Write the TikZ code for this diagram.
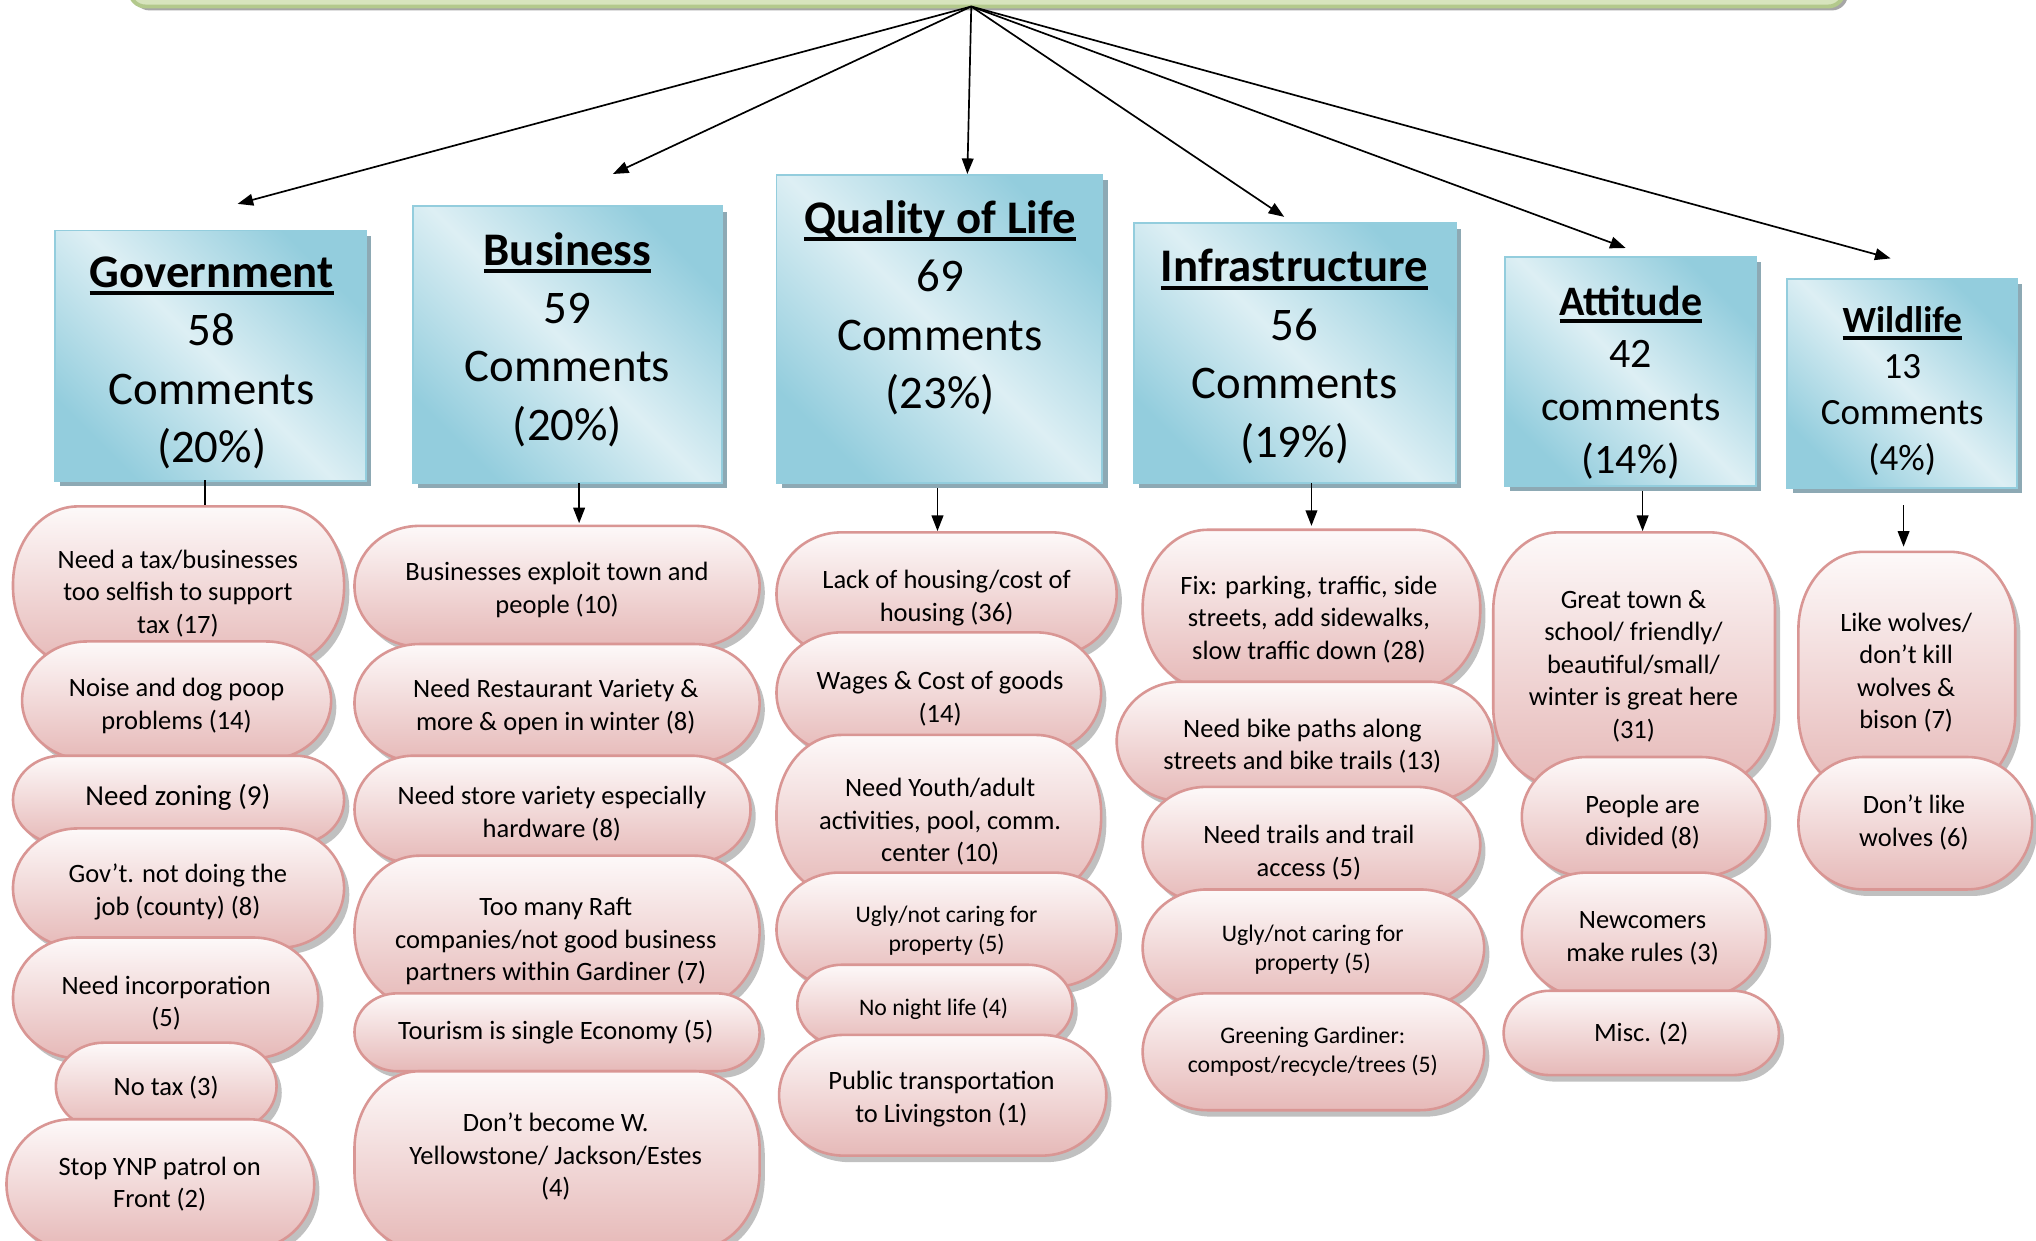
\documentclass[tikz,border=0pt]{standalone}
\usepackage{fontspec}
\setmainfont{Carlito}
\usetikzlibrary{arrows.meta,shadows}
\definecolor{pinkedge}{HTML}{D99694}
\definecolor{pinktop}{HTML}{FDF9F9}
\definecolor{pinkbot}{HTML}{E6B9B8}
\definecolor{pillshadow}{HTML}{A6A6A6}
\definecolor{bluedark}{HTML}{93CDDD}
\definecolor{bluelight}{HTML}{DDEFF4}
\definecolor{blueedge}{HTML}{93CDDD}
\definecolor{blueshadow}{HTML}{8DA9B4}
\definecolor{greenfill}{HTML}{D7E4BD}
\definecolor{greenedge}{HTML}{B3C98C}
\newcommand\fs[2]{\fontsize{#1}{#2}\selectfont}
\newcommand\pf{\fs{20.4}{25}}
\newcommand\pfs{\fs{18.3}{22.5}}
\newcommand\pfz{\fs{22.3}{27}}
\newcommand\cathead[1]{\setbox0\hbox{#1}\rlap{\rule[-6pt]{\wd0}{3pt}}\box0}
\newcommand\pill[9]{%
  \pgfmathsetmacro\pXa{#2}\pgfmathsetmacro\pXb{#4}%
  \pgfmathsetmacro\pYa{-#3}\pgfmathsetmacro\pYb{-#5}%
  \pgfmathsetmacro\pH{#5-#3}%
  \pgfmathsetmacro\pRy{min(\pH/2,60)}%
  \pgfmathsetmacro\pRx{min(50,0.55*\pH)}%
  \def\pillpath{(\pXa+\pRx,\pYa) -- (\pXb-\pRx,\pYa)
    arc[start angle=90,end angle=0,x radius=\pRx pt,y radius=\pRy pt]
    -- (\pXb,\pYb+\pRy)
    arc[start angle=0,end angle=-90,x radius=\pRx pt,y radius=\pRy pt]
    -- (\pXa+\pRx,\pYb)
    arc[start angle=270,end angle=180,x radius=\pRx pt,y radius=\pRy pt]
    -- (\pXa,\pYa-\pRy)
    arc[start angle=180,end angle=90,x radius=\pRx pt,y radius=\pRy pt]
    -- cycle}%
  \fill[pillshadow,opacity=.7,shift={(4,-5)}] \pillpath;
  \shade[top color=pinktop,bottom color=pinkbot] \pillpath;
  \draw[pinkedge,line width=2pt] \pillpath;
  \node[pilltext,font=#8] (#1) at (#6,-#7-2) {#9};
  \coordinate (#1-top) at ({(#2+#4)/2},-#3);
}
\begin{document}
\begin{tikzpicture}[x=1pt,y=1pt,
  arr/.style={-{Triangle[length=12pt,width=9pt]},line width=1.3pt,black},
  link/.style={line width=1.3pt,black},
  pilltext/.style={align=center,inner sep=0pt,text=black},
  cattext/.style={align=center,inner sep=0pt,text=black},
  catbox/.style={draw=blueedge,line width=1.5pt,top color=bluedark,bottom color=bluedark,
    middle color=bluelight,shading angle=-45,inner sep=0pt,
    drop shadow={shadow xshift=4pt,shadow yshift=-4pt,fill=blueshadow,opacity=1}},
  topbox/.style={draw=greenedge,line width=3pt,fill=greenfill,rounded corners=12pt,
    drop shadow={shadow xshift=3pt,shadow yshift=-3pt,fill=gray!70,opacity=1}}]
\useasboundingbox (0,0) rectangle (1568,-955);
\fill[white] (0,0) rectangle (1568,-955);

% top bar
\node[topbox,minimum width=1320pt,minimum height=80pt] (topbar) at (760,35) {};
\coordinate (apex) at (748,-5);
\coordinate (tGov) at (183,-157);
\coordinate (tBus) at (472,-134);
\coordinate (tQol) at (745,-134);
\coordinate (tInf) at (989,-167);
\coordinate (tAtt) at (1252,-191);
\coordinate (tWil) at (1456,-199);
\foreach \t in {tGov,tBus,tQol,tInf,tAtt,tWil} \draw[arr] (apex) -- (\t);

% category boxes
\node[catbox,minimum width=240pt,minimum height=193pt] (gov) at (162,-274) {};
\node[catbox,minimum width=238pt,minimum height=213pt] (bus) at (437,-265.5) {};
\node[catbox,minimum width=251pt,minimum height=237pt] (qol) at (723.5,-253.5) {};
\node[catbox,minimum width=248pt,minimum height=200pt] (inf) at (997,-272) {};
\node[catbox,minimum width=193pt,minimum height=176pt] (att) at (1255.5,-286) {};
\node[catbox,minimum width=177pt,minimum height=161pt] (wil) at (1465,-295.5) {};

\node[cattext,font=\fs{36}{45}] (govt) at (163,-279.5) {\cathead{\bfseries Government}\\58\\Comments\\(20\%)};
\node[cattext,font=\fs{36}{45}] (bust) at (437,-261.5) {\cathead{\bfseries Business}\\59\\Comments\\(20\%)};
\node[cattext,font=\fs{36}{45}] (qolt) at (724,-237) {\cathead{\bfseries Quality of Life}\\69\\Comments\\(23\%)};
\node[cattext,font=\fs{36}{45}] (inft) at (997,-274.5) {\cathead{\bfseries Infrastructure}\\56\\Comments\\(19\%)};
\node[cattext,font=\fs{32.3}{40.5}] (attt) at (1256,-294.5) {\cathead{\bfseries Attitude}\\42\\comments\\(14\%)};
\node[cattext,font=\fs{28.5}{35.5}] (wilt) at (1465,-301) {\cathead{\bfseries Wildlife}\\13\\Comments\\(4\%)};

% connectors from boxes to first items
\coordinate (govout) at (158,-370);
\coordinate (busout) at (446,-372);
\coordinate (qolout) at (722,-376);
\coordinate (infout) at (1010,-372);
\coordinate (attout) at (1265,-378);
\coordinate (wilout) at (1466,-389);
\draw[link] (govout) -- (govout |- 0,-392);
\draw[arr] (busout) -- (busout |- 0,-403);
\draw[arr] (qolout) -- (qolout |- 0,-409);
\draw[arr] (infout) -- (infout |- 0,-405);
\draw[arr] (attout) -- (attout |- 0,-409);
\draw[arr] (wilout) -- (wilout |- 0,-421);

% Government
\pill{g1}{10}{390}{265}{512}{137}{455}{\pf}{Need a tax/businesses\\too selfish to support\\tax (17)}
\pill{g2}{17}{494}{255}{585}{136}{541.5}{\pf}{Noise and dog poop\\problems (14)}
\pill{g3}{10}{582}{265}{650}{137}{612}{\pfz}{Need zoning (9)}
\pill{g4}{10}{638}{265}{730}{137}{685}{\pf}{Gov’t. not doing the\\job (county) (8)}
\pill{g5}{10}{722}{245}{815}{128}{770.5}{\pf}{Need incorporation\\(5)}
\pill{g6}{43}{803}{213}{870}{128}{836}{\pf}{No tax (3)}
\pill{g7}{5}{862}{242}{962}{123}{910}{\pf}{Stop YNP patrol on\\Front (2)}

% Business
\pill{b1}{273}{405}{585}{498}{429}{452.5}{\pf}{Businesses exploit town and\\people (10)}
\pill{b2}{273}{496}{585}{587}{428}{542.5}{\pf}{Need Restaurant Variety \&\\more \& open in winter (8)}
\pill{b3}{273}{582}{578}{665}{425}{624.5}{\pf}{Need store variety especially\\hardware (8)}
\pill{b4}{273}{659}{585}{775}{428}{723}{\pf}{Too many Raft\\companies/not good business\\partners within Gardiner (7)}
\pill{b5}{273}{765}{585}{825}{428}{793}{\pf}{Tourism is single Economy (5)}
\pill{b6}{273}{825}{585}{962}{428}{889}{\pf}{Don’t become W.\\Yellowstone/ Jackson/Estes\\(4)}

% Quality of Life
\pill{q1}{598}{410}{860}{505}{729}{458.5}{\pf}{Lack of housing/cost of\\housing (36)}
\pill{q2}{598}{487}{848}{580}{724}{536}{\pf}{Wages \& Cost of goods\\(14)}
\pill{q3}{598}{566}{848}{690}{724}{631}{\pf}{Need Youth/adult\\activities, pool, comm.\\center (10)}
\pill{q4}{598}{672}{860}{760}{729}{715}{\pfs}{Ugly/not caring for\\property (5)}
\pill{q5}{614}{743}{826}{805}{719}{775}{\pfs}{No night life (4)}
\pill{q6}{600}{797}{852}{890}{725}{844.5}{\pf}{Public transportation\\to Livingston (1)}

% Infrastructure
\pill{i1}{880}{408}{1140}{530}{1008}{475}{\pf}{Fix: parking, traffic, side\\streets, add sidewalks,\\slow traffic down (28)}
\pill{i2}{860}{525}{1150}{617}{1003}{572.5}{\pf}{Need bike paths along\\streets and bike trails (13)}
\pill{i3}{880}{606}{1140}{695}{1008}{654.5}{\pf}{Need trails and trail\\access (5)}
\pill{i4}{880}{685}{1143}{775}{1011}{729.5}{\pfs}{Ugly/not caring for\\property (5)}
\pill{i5}{880}{765}{1143}{855}{1011}{808}{\pfs}{Greening Gardiner:\\compost/recycle/trees (5)}

% Attitude
\pill{a1}{1150}{410}{1367}{605}{1258}{511}{\pf}{Great town \&\\school/ friendly/\\beautiful/small/\\winter is great here\\(31)}
\pill{a2}{1172}{583}{1360}{675}{1265}{631}{\pf}{People are\\divided (8)}
\pill{a3}{1172}{672}{1360}{768}{1265}{720.5}{\pf}{Newcomers\\make rules (3)}
\pill{a4}{1158}{763}{1370}{828}{1264}{794}{\pf}{Misc. (2)}

% Wildlife
\pill{w1}{1385}{425}{1552}{610}{1468}{516}{\pf}{Like wolves/\\don’t kill\\wolves \&\\bison (7)}
\pill{w2}{1385}{583}{1565}{685}{1474}{631.5}{\pf}{Don’t like\\wolves (6)}
\end{tikzpicture}
\end{document}
